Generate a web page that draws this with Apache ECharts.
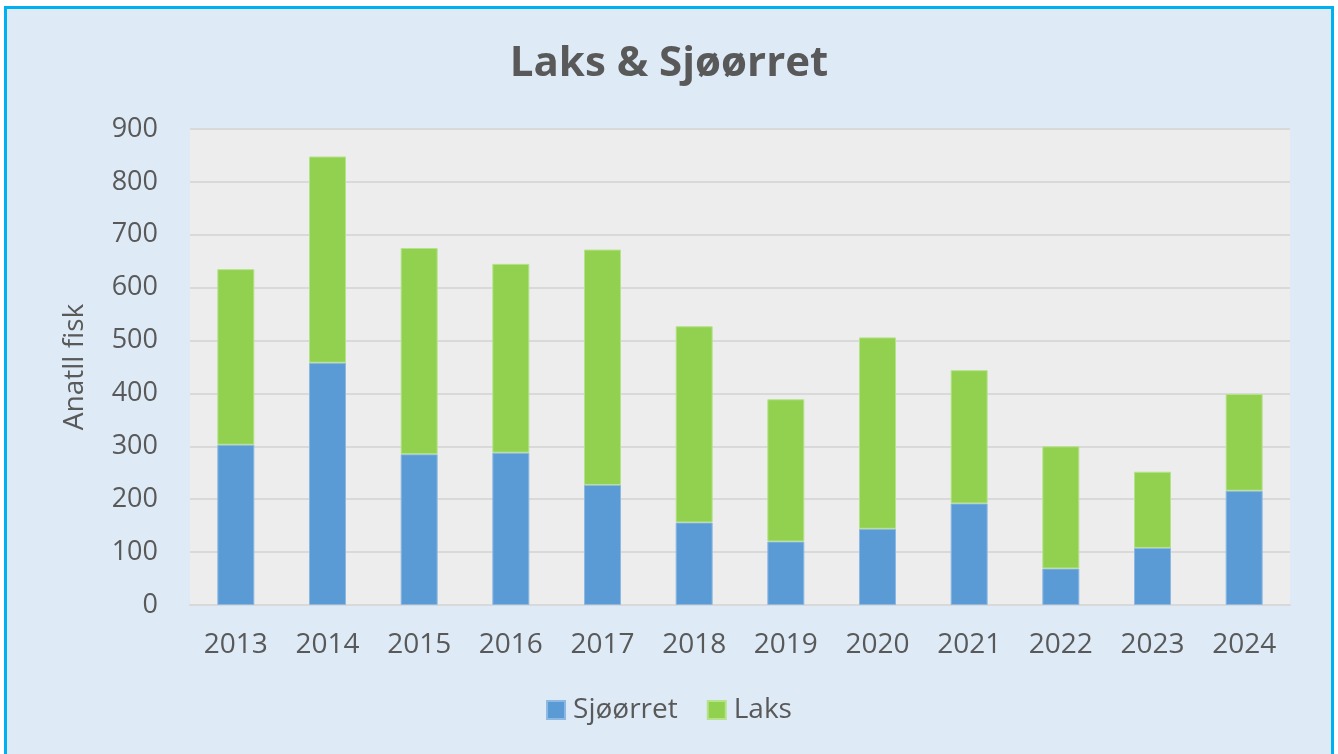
<!DOCTYPE html>
<html>
<head>
<meta charset="utf-8">
<script src="https://cdn.jsdelivr.net/npm/echarts@6/dist/echarts.min.js"></script>
<style>
    html, body { margin: 0; padding: 0; background: #ffffff; }
    #frame {
        position: absolute; left: 4px; top: 6px; width: 1324px; height: 760px;
        border: 3px solid #00b0f0; background: #deeaf6;
    }
    #main { position: absolute; left: 0; top: 0; width: 1338px; height: 754px; }
</style>
</head>
<body>
<div id="frame"></div>
<div id="main"></div>
<script>
    var years = ['2013', '2014', '2015', '2016', '2017', '2018', '2019', '2020', '2021', '2022', '2023', '2024'];
    var sjoorret = [303, 458, 285, 288, 227, 156, 120, 144, 192, 69, 108, 216]; //blå
    var laks = [332, 390, 390, 357, 445, 371, 269, 362, 252, 231, 144, 183]; //grønn
    var yTicks = [0, 100, 200, 300, 400, 500, 600, 700, 800, 900];

    var font = '"Open Sans", sans-serif';
    var myChart = echarts.init(document.getElementById('main'));
    var option = {
        backgroundColor: 'transparent',
        title: {
            text: 'Laks & Sjøørret',
            left: 'center',
            top: 38,
            textStyle: { color: '#595959', fontSize: 42, fontWeight: 'bold', fontFamily: font }
        },
        legend: {
            bottom: 25,
            left: 'center',
            itemWidth: 18,
            itemHeight: 18,
            itemGap: 29,
            icon: 'rect',
            textStyle: { color: '#595959', fontSize: 28, fontFamily: font, padding: [0, 0, 0, 3] },
            data: ['Sjøørret', 'Laks']
        },
        grid: {
            left: 190,
            right: 48,
            top: 129,
            bottom: 149,
            show: true,
            backgroundColor: '#ededed',
            borderWidth: 0
        },
        xAxis: {
            type: 'category',
            data: years,
            axisTick: { show: false },
            axisLine: { lineStyle: { color: '#d9d9d9', width: 2 } },
            axisLabel: { color: '#595959', fontSize: 28, fontFamily: font, margin: 26 }
        },
        yAxis: {
            type: 'value',
            min: yTicks[0],
            max: yTicks[yTicks.length - 1],
            interval: 100,
            name: 'Anatll fisk',
            nameLocation: 'middle',
            nameGap: 101,
            nameTextStyle: { color: '#595959', fontSize: 28, fontFamily: font },
            axisLine: { show: false },
            axisTick: { show: false },
            splitLine: { lineStyle: { color: '#d9d9d9', width: 2 } },
            axisLabel: { color: '#595959', fontSize: 27, fontFamily: font, margin: 32 }
        },
        series: [{
            name: 'Sjøørret',
            type: 'bar',
            stack: 'fisk',
            barWidth: 37,
            data: sjoorret,
            itemStyle: { color: '#5b9bd5', borderColor: '#8db8e3', borderWidth: 1 }
        }, {
            name: 'Laks',
            type: 'bar',
            stack: 'fisk',
            barWidth: 37,
            data: laks,
            itemStyle: { color: '#92d050', borderColor: '#b5e38a', borderWidth: 1 }
        }]
    };
    myChart.setOption(option);
</script>
</body>
</html>
